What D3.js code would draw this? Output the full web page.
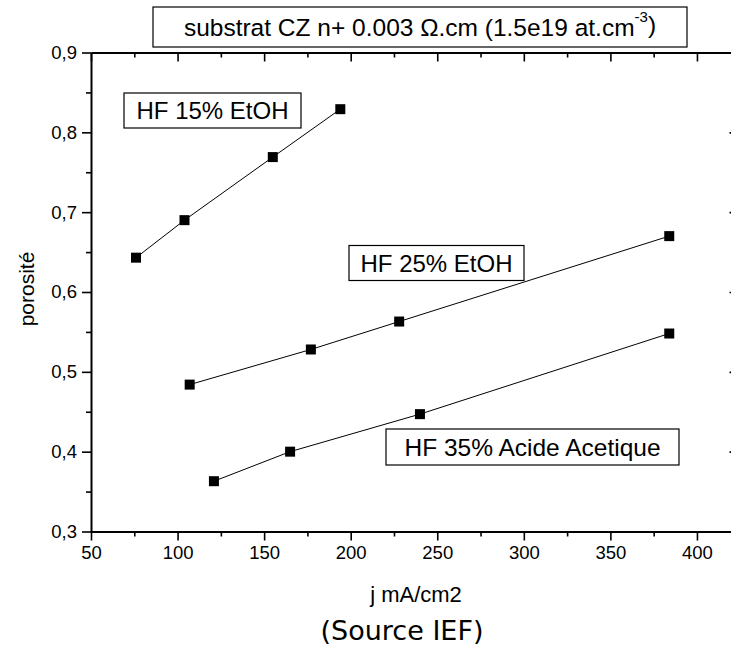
<!DOCTYPE html>
<html>
<head>
<meta charset="utf-8">
<script src="https://cdn.jsdelivr.net/npm/d3@7"></script>
<style>
  body { margin: 0; background: #fff; }
  svg text { font-family: "Liberation Sans", Arial, sans-serif; fill: #000; }
</style>
</head>
<body>
<svg class="chart"></svg>
<script>
// series data
var hf15x = [76, 104, 155, 194],
    hf15y = [0.643, 0.690, 0.769, 0.829];
var hf25x = [107, 177, 228, 384],
    hf25y = [0.484, 0.528, 0.563, 0.670];
var hf35x = [121, 165, 240, 384],
    hf35y = [0.363, 0.400, 0.447, 0.548];

var seriesNames = ["HF 15% EtOH", "HF 25% EtOH", "HF 35% Acide Acetique"];

var xTicks = [50, 100, 150, 200, 250, 300, 350, 400],
    xMinor = [75, 125, 175, 225, 275, 325, 375, 425];
var yTicks = [0.3, 0.4, 0.5, 0.6, 0.7, 0.8, 0.9],
    yMinor = [0.35, 0.45, 0.55, 0.65, 0.75, 0.85];

var W = 731, H = 651;
var svg = d3.select(".chart").attr("width", W).attr("height", H),
    margin = {top: 52.5, right: -7.5, bottom: 119.5, left: 91},
    width = W - margin.left - margin.right,
    height = H - margin.top - margin.bottom,
    g = svg.append("g").attr("transform", "translate(" + margin.left + "," + margin.top + ")");

var x = d3.scaleLinear().domain([50, 424]).range([0, width]);
var y = d3.scaleLinear().domain([0.3, 0.9]).range([height, 0]);

var fmt = function(d) { return d.toFixed(1).replace(".", ","); };

function styleAxis(sel) {
  sel.select(".domain").attr("stroke", "#000").attr("stroke-width", 2);
  sel.selectAll(".tick line").attr("stroke", "#000").attr("stroke-width", 1.6);
  sel.selectAll(".tick text").attr("font-size", 18.5).attr("fill", "#000")
     .attr("font-family", "Liberation Sans, Arial, sans-serif");
}

// bottom axis (outward ticks)
g.append("g").attr("transform", "translate(0," + height + ")")
  .call(d3.axisBottom(x).tickValues(xTicks).tickSize(9).tickSizeOuter(0).tickPadding(5))
  .call(styleAxis);
g.append("g").attr("transform", "translate(0," + height + ")")
  .call(d3.axisBottom(x).tickValues(xMinor).tickSize(5).tickFormat(""))
  .call(styleAxis).select(".domain").remove();

// top axis (inward ticks)
g.append("g")
  .call(d3.axisTop(x).tickValues(xTicks).tickSize(-9).tickSizeOuter(0).tickFormat(""))
  .call(styleAxis);
g.append("g")
  .call(d3.axisTop(x).tickValues(xMinor).tickSize(-5).tickFormat(""))
  .call(styleAxis).select(".domain").remove();

// left axis (outward ticks)
g.append("g")
  .call(d3.axisLeft(y).tickValues(yTicks).tickSize(9).tickSizeOuter(0).tickPadding(5).tickFormat(fmt))
  .call(styleAxis);
g.append("g")
  .call(d3.axisLeft(y).tickValues(yMinor).tickSize(5).tickFormat(""))
  .call(styleAxis).select(".domain").remove();

// right axis (inward ticks)
g.append("g").attr("transform", "translate(" + width + ",0)")
  .call(d3.axisRight(y).tickValues(yTicks).tickSize(-9).tickSizeOuter(0).tickFormat(""))
  .call(styleAxis);
g.append("g").attr("transform", "translate(" + width + ",0)")
  .call(d3.axisRight(y).tickValues(yMinor).tickSize(-5).tickFormat(""))
  .call(styleAxis).select(".domain").remove();

// series
var series = [
  {xs: hf15x, ys: hf15y},
  {xs: hf25x, ys: hf25y},
  {xs: hf35x, ys: hf35y}
];
var line = d3.line().x(function(d) { return x(d[0]); }).y(function(d) { return y(d[1]); });

series.forEach(function(s) {
  var pts = d3.zip(s.xs, s.ys);
  g.append("path").datum(pts)
    .attr("fill", "none").attr("stroke", "#000").attr("stroke-width", 1)
    .attr("d", line);
  g.selectAll(null).data(pts).enter().append("rect")
    .attr("x", function(d) { return x(d[0]) - 5; })
    .attr("y", function(d) { return y(d[1]) - 5; })
    .attr("width", 10).attr("height", 10)
    .attr("fill", "#000");
});

// boxed labels
function boxLabel(cx, cy, w, h, size) {
  var lb = svg.append("g").attr("transform", "translate(" + cx + "," + cy + ")");
  lb.append("rect").attr("x", -w / 2).attr("y", -h / 2).attr("width", w).attr("height", h)
    .attr("fill", "#fff").attr("stroke", "#000").attr("stroke-width", 1.2);
  return lb.append("text").attr("text-anchor", "middle").attr("dy", "0.36em").attr("font-size", size);
}

boxLabel(212.5, 110.5, 177, 35, 24).text(seriesNames[0]);
boxLabel(436.5, 263, 175, 35, 24).text(seriesNames[1]);
boxLabel(532.5, 447, 293, 36, 24.5).text(seriesNames[2]);

var title = boxLabel(420, 27, 534, 40, 24.5);
title.append("tspan").text("substrat CZ n+ 0.003 \u03A9.cm (1.5e19 at.cm");
title.append("tspan").attr("font-size", 15).attr("dy", "-0.9em").text("-3");
title.append("tspan").attr("dy", "0.45em").text(")");

// axis titles
svg.append("text").attr("x", 416).attr("y", 602).attr("text-anchor", "middle")
  .attr("font-size", 22).text("j mA/cm2");
svg.append("text").attr("transform", "translate(34,289) rotate(-90)").attr("text-anchor", "middle")
  .attr("font-size", 21).text("porosité");

svg.append("text").attr("x", 402).attr("y", 640).attr("text-anchor", "middle")
  .attr("font-size", 27).style("font-family", "DejaVu Sans, Verdana, sans-serif")
  .text("(Source IEF)");
</script>
</body>
</html>
